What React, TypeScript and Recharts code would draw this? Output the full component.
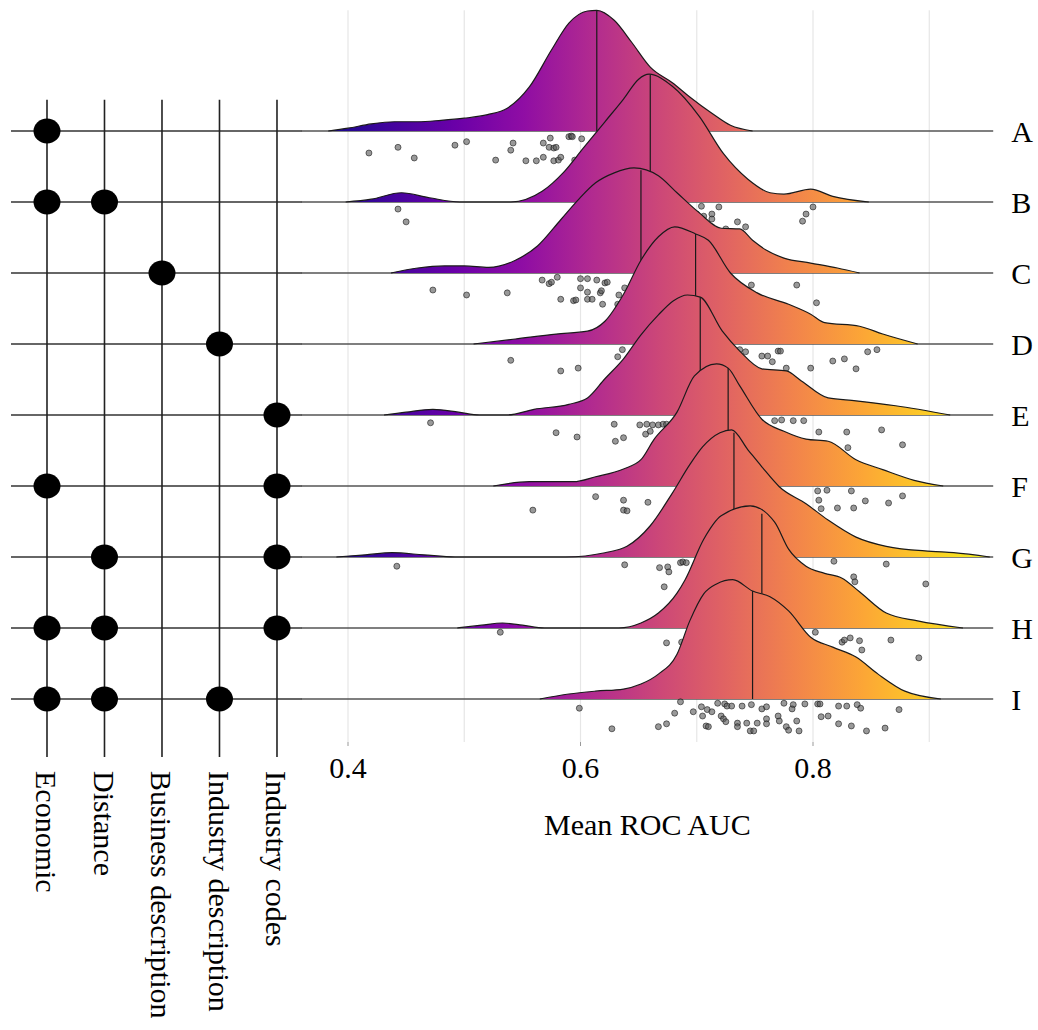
import React from 'react';
import { ComposedChart, Area, Scatter, XAxis, YAxis, ReferenceLine } from 'recharts';

// rows top to bottom
const rowLabels = ['A', 'B', 'C', 'D', 'E', 'F', 'G', 'H', 'I'];
const features = ['Economic', 'Distance', 'Business description', 'Industry description', 'Industry codes'];
// which feature columns are used by each row
const featureSets = [[0], [0, 1], [2], [3], [4], [0, 4], [1, 4], [0, 1, 4], [0, 1, 3]];
const medians = [0.614, 0.66, 0.652, 0.699, 0.703, 0.727, 0.732, 0.756, 0.748];

// density curves: [mean ROC AUC, ridge height in row units]
const densA = [[0.383, 0], [0.40, 0.04], [0.42, 0.10], [0.44, 0.13], [0.46, 0.13], [0.48, 0.15], [0.50, 0.18], [0.52, 0.23], [0.537, 0.32], [0.556, 0.62], [0.575, 1.14], [0.59, 1.52], [0.606, 1.69], [0.614, 1.70], [0.629, 1.56], [0.644, 1.25], [0.66, 0.90], [0.679, 0.68], [0.694, 0.48], [0.713, 0.25], [0.729, 0.08], [0.748, 0]];
const densB = [[0.398, 0], [0.42, 0.04], [0.446, 0.13], [0.47, 0.06], [0.496, 0], [0.54, 0], [0.567, 0.15], [0.585, 0.41], [0.602, 0.75], [0.621, 1.13], [0.637, 1.45], [0.65, 1.73], [0.659, 1.80], [0.679, 1.63], [0.702, 1.21], [0.723, 0.68], [0.744, 0.32], [0.763, 0.13], [0.775, 0.11], [0.798, 0.18], [0.817, 0.08], [0.848, 0]];
const densC = [[0.437, 0], [0.46, 0.07], [0.483, 0.10], [0.50, 0.10], [0.521, 0.08], [0.544, 0.18], [0.563, 0.38], [0.583, 0.75], [0.598, 1.03], [0.613, 1.27], [0.629, 1.41], [0.646, 1.48], [0.667, 1.37], [0.683, 1.13], [0.702, 0.85], [0.721, 0.63], [0.737, 0.62], [0.748, 0.46], [0.76, 0.32], [0.775, 0.21], [0.798, 0.14], [0.821, 0.07], [0.84, 0]];
const densD = [[0.508, 0], [0.544, 0.07], [0.579, 0.14], [0.606, 0.18], [0.621, 0.32], [0.637, 0.70], [0.652, 1.18], [0.667, 1.51], [0.681, 1.65], [0.699, 1.55], [0.71, 1.46], [0.729, 1.00], [0.752, 0.72], [0.779, 0.56], [0.798, 0.42], [0.81, 0.30], [0.84, 0.25], [0.86, 0.14], [0.89, 0]];
const densE = [[0.431, 0], [0.45, 0.04], [0.473, 0.08], [0.495, 0.04], [0.513, 0], [0.537, 0], [0.56, 0.08], [0.59, 0.15], [0.606, 0.24], [0.621, 0.51], [0.637, 0.79], [0.652, 1.13], [0.667, 1.41], [0.68, 1.61], [0.692, 1.69], [0.703, 1.66], [0.722, 1.18], [0.737, 0.90], [0.756, 0.65], [0.777, 0.62], [0.79, 0.48], [0.813, 0.24], [0.837, 0.20], [0.871, 0.13], [0.918, 0]];
const densF = [[0.525, 0], [0.556, 0.06], [0.594, 0.06], [0.613, 0.13], [0.637, 0.24], [0.652, 0.37], [0.663, 0.65], [0.683, 1.04], [0.698, 1.55], [0.717, 1.72], [0.727, 1.66], [0.737, 1.41], [0.756, 0.94], [0.775, 0.77], [0.794, 0.66], [0.813, 0.63], [0.837, 0.37], [0.86, 0.23], [0.887, 0.08], [0.912, 0]];
const densG = [[0.39, 0], [0.415, 0.03], [0.438, 0.06], [0.465, 0.03], [0.492, 0], [0.587, 0], [0.621, 0.06], [0.64, 0.15], [0.66, 0.44], [0.679, 0.90], [0.694, 1.30], [0.705, 1.55], [0.72, 1.75], [0.73, 1.79], [0.744, 1.51], [0.756, 1.27], [0.771, 0.99], [0.794, 0.75], [0.813, 0.52], [0.837, 0.28], [0.863, 0.15], [0.902, 0.08], [0.921, 0.06], [0.952, 0]];
const densH = [[0.494, 0], [0.515, 0.04], [0.533, 0.07], [0.55, 0.04], [0.569, 0], [0.633, 0], [0.652, 0.07], [0.667, 0.21], [0.683, 0.49], [0.69, 0.68], [0.706, 1.25], [0.721, 1.58], [0.746, 1.72], [0.767, 1.49], [0.779, 1.11], [0.794, 0.87], [0.81, 0.77], [0.825, 0.70], [0.84, 0.51], [0.863, 0.21], [0.89, 0.10], [0.929, 0]];
const densI = [[0.565, 0], [0.59, 0.07], [0.613, 0.11], [0.637, 0.14], [0.652, 0.21], [0.667, 0.35], [0.683, 0.63], [0.694, 1.10], [0.706, 1.48], [0.717, 1.62], [0.731, 1.68], [0.748, 1.52], [0.763, 1.44], [0.779, 1.24], [0.798, 0.87], [0.817, 0.73], [0.837, 0.59], [0.856, 0.35], [0.879, 0.11], [0.91, 0]];

// jittered raw points: [mean ROC AUC, depth below the row line in row units]
const ptsA = [[0.418, 0.31], [0.443, 0.23], [0.457, 0.38], [0.492, 0.20], [0.502, 0.15], [0.527, 0.41], [0.540, 0.27], [0.542, 0.17], [0.553, 0.42], [0.562, 0.42], [0.568, 0.37], [0.568, 0.17], [0.574, 0.10], [0.573, 0.23], [0.577, 0.24], [0.579, 0.23], [0.577, 0.42], [0.581, 0.41], [0.583, 0.37], [0.590, 0.08], [0.592, 0.07], [0.593, 0.08], [0.601, 0.11], [0.595, 0.41]];
const ptsB = [[0.443, 0.10], [0.450, 0.28], [0.704, 0.06], [0.719, 0.07], [0.694, 0.10], [0.700, 0.17], [0.706, 0.20], [0.713, 0.17], [0.713, 0.24], [0.735, 0.28], [0.742, 0.35], [0.713, 0.35], [0.725, 0.38], [0.800, 0.07], [0.794, 0.17], [0.791, 0.27]];
const ptsC = [[0.473, 0.24], [0.502, 0.31], [0.537, 0.28], [0.567, 0.10], [0.573, 0.15], [0.575, 0.13], [0.580, 0.06], [0.583, 0.37], [0.594, 0.39], [0.600, 0.08], [0.606, 0.08], [0.614, 0.10], [0.621, 0.14], [0.623, 0.13], [0.600, 0.21], [0.606, 0.27], [0.617, 0.28], [0.618, 0.25], [0.596, 0.38], [0.606, 0.37], [0.610, 0.37], [0.619, 0.44], [0.633, 0.31], [0.632, 0.44], [0.638, 0.21], [0.747, 0.17], [0.786, 0.17], [0.803, 0.42]];
const ptsD = [[0.540, 0.23], [0.583, 0.38], [0.598, 0.34], [0.632, 0.18], [0.636, 0.08], [0.632, 0.41], [0.737, 0.08], [0.742, 0.11], [0.756, 0.17], [0.761, 0.17], [0.765, 0.25], [0.770, 0.10], [0.772, 0.10], [0.777, 0.34], [0.798, 0.34], [0.817, 0.24], [0.827, 0.21], [0.837, 0.35], [0.847, 0.11], [0.855, 0.08]];
const ptsE = [[0.471, 0.11], [0.579, 0.25], [0.597, 0.31], [0.629, 0.13], [0.630, 0.37], [0.637, 0.32], [0.651, 0.14], [0.657, 0.13], [0.662, 0.14], [0.656, 0.27], [0.660, 0.23], [0.667, 0.14], [0.671, 0.13], [0.674, 0.13], [0.767, 0.08], [0.773, 0.07], [0.783, 0.08], [0.792, 0.08], [0.805, 0.24], [0.829, 0.24], [0.859, 0.21], [0.830, 0.46], [0.877, 0.42]];
const ptsF = [[0.559, 0.34], [0.613, 0.15], [0.637, 0.20], [0.658, 0.23], [0.637, 0.34], [0.640, 0.35], [0.804, 0.07], [0.812, 0.06], [0.805, 0.20], [0.833, 0.07], [0.845, 0.21], [0.865, 0.24], [0.877, 0.14], [0.807, 0.32], [0.821, 0.31], [0.835, 0.31]];
const ptsG = [[0.442, 0.13], [0.638, 0.11], [0.668, 0.15], [0.675, 0.14], [0.676, 0.21], [0.686, 0.08], [0.688, 0.07], [0.691, 0.08], [0.672, 0.42], [0.818, 0.06], [0.863, 0.10], [0.835, 0.28], [0.836, 0.35], [0.897, 0.38]];
const ptsH = [[0.531, 0.06], [0.674, 0.21], [0.687, 0.20], [0.691, 0.18], [0.802, 0.06], [0.825, 0.20], [0.827, 0.17], [0.832, 0.14], [0.840, 0.18], [0.842, 0.31], [0.867, 0.17], [0.891, 0.42]];
const ptsI = [[0.599, 0.13], [0.627, 0.42], [0.667, 0.39], [0.674, 0.35], [0.681, 0.20], [0.686, 0.04], [0.697, 0.18], [0.704, 0.11], [0.705, 0.24], [0.709, 0.15], [0.713, 0.18], [0.708, 0.38], [0.710, 0.39], [0.718, 0.06], [0.724, 0.07], [0.726, 0.10], [0.721, 0.24], [0.723, 0.28], [0.725, 0.32], [0.730, 0.10], [0.739, 0.10], [0.747, 0.08], [0.735, 0.34], [0.735, 0.39], [0.743, 0.34], [0.746, 0.45], [0.749, 0.45], [0.752, 0.34], [0.756, 0.14], [0.760, 0.11], [0.760, 0.28], [0.760, 0.35], [0.770, 0.24], [0.771, 0.31], [0.775, 0.06], [0.783, 0.08], [0.782, 0.14], [0.777, 0.39], [0.779, 0.44], [0.786, 0.31], [0.788, 0.45], [0.793, 0.07], [0.804, 0.07], [0.806, 0.07], [0.807, 0.25], [0.813, 0.24], [0.822, 0.10], [0.829, 0.10], [0.822, 0.35], [0.833, 0.38], [0.838, 0.08], [0.841, 0.13], [0.846, 0.45], [0.862, 0.41], [0.874, 0.15]];

const aucTicks = [0.4, 0.6, 0.8];
const gridValues = [0.4, 0.5, 0.6, 0.7, 0.8, 0.9];

const densities = [densA, densB, densC, densD, densE, densF, densG, densH, densI];
const pointSets = [ptsA, ptsB, ptsC, ptsD, ptsE, ptsF, ptsG, ptsH, ptsI];

const PLASMA = ['#0d0887', '#41049d', '#6a00a8', '#8f0da4', '#b12a90', '#cc4778', '#e16462', '#f2844b', '#fca636', '#fcce25', '#f0f921'];

// layout
const W = 1038;
const H = 1030;
const FONT = '"Liberation Serif", "Times New Roman", serif';
const X_DOMAIN: [number, number] = [0.36, 0.955];
const PLOT_L = 301.5;
const PLOT_W = 691.7;
const Y_DOMAIN: [number, number] = [-0.606, 9.845];
const M_Y_DOMAIN: [number, number] = [-0.817, 9.845];
const M_X_DOMAIN: [number, number] = [-0.626, 4.435];
const MATRIX_LINE_TOP = 8.44;
const GRID_TOP = 9.7;

const nRows = rowLabels.length;
const offsetOf = (r: number) => nRows - 1 - r;
const xPx = (v: number) => PLOT_L + ((v - X_DOMAIN[0]) / (X_DOMAIN[1] - X_DOMAIN[0])) * PLOT_W;

const heightAt = (pairs: number[][], m: number) => {
  for (let i = 1; i < pairs.length; i++) {
    const [x0, h0] = pairs[i - 1];
    const [x1, h1] = pairs[i];
    if (m >= x0 && m <= x1) return h0 + ((m - x0) / (x1 - x0)) * (h1 - h0);
  }
  return 0;
};

const PointDot = (p: any) => (
  <circle cx={p.cx} cy={p.cy} r={3} fill="#555" fillOpacity={0.6} stroke="#111" strokeOpacity={0.7} strokeWidth={0.8} />
);

const MatrixDot = (p: any) => <ellipse cx={p.cx} cy={p.cy} rx={13.5} ry={12.5} fill="#000" />;

const FeatureTick = (p: any) => (
  <text
    x={p.x}
    y={p.y}
    transform={`rotate(90 ${p.x} ${p.y})`}
    textAnchor="start"
    dominantBaseline="central"
    fontSize={30}
    fontFamily={FONT}
    fill="#000"
  >
    {features[p.payload.value]}
  </text>
);

const matrixDots = featureSets.flatMap((cols, r) => cols.map((c) => ({ x: c, y: offsetOf(r) })));

const MatrixChart = () => (
  <ComposedChart width={340} height={H} margin={{ top: 0, right: 38, bottom: 0, left: 11 }}>
    <XAxis
      type="number"
      dataKey="x"
      domain={M_X_DOMAIN}
      ticks={[0, 1, 2, 3, 4]}
      interval={0}
      allowDataOverflow
      axisLine={false}
      tickLine={false}
      tickSize={0}
      tickMargin={14}
      height={273}
      tick={<FeatureTick />}
    />
    <YAxis type="number" dataKey="y" domain={M_Y_DOMAIN} allowDataOverflow hide />
    {rowLabels.map((l, r) => (
      <ReferenceLine key={'h' + l} y={offsetOf(r)} stroke="#333" strokeWidth={1.6} />
    ))}
    {features.map((f, c) => (
      <ReferenceLine
        key={'v' + f}
        segment={[{ x: c, y: M_Y_DOMAIN[0] }, { x: c, y: MATRIX_LINE_TOP }]}
        stroke="#222"
        strokeWidth={1.6}
      />
    ))}
    <Scatter data={matrixDots} dataKey="y" shape={MatrixDot} isAnimationActive={false} />
  </ComposedChart>
);

const RidgeChart = () => (
  <ComposedChart width={W} height={H} margin={{ top: 0, right: 0, bottom: 188, left: PLOT_L }}>
    <defs>
      <linearGradient id="plasma" gradientUnits="userSpaceOnUse" x1={xPx(0.375)} y1={0} x2={xPx(0.96)} y2={0}>
        {PLASMA.map((c, i) => (
          <stop key={c} offset={i / (PLASMA.length - 1)} stopColor={c} />
        ))}
      </linearGradient>
    </defs>
    <XAxis
      type="number"
      dataKey="x"
      domain={X_DOMAIN}
      ticks={aucTicks}
      interval={0}
      allowDataOverflow
      axisLine={false}
      tickLine={{ stroke: '#999' }}
      tickSize={4}
      tickMargin={11}
      height={100}
      tick={{ fontSize: 30, fill: '#000', fontFamily: FONT }}
      tickFormatter={(v: number) => v.toFixed(1)}
      label={{ value: 'Mean ROC AUC', position: 'insideTop', offset: 72, fontSize: 30, fill: '#000', fontFamily: FONT }}
    />
    <YAxis
      type="number"
      dataKey="y"
      orientation="right"
      domain={Y_DOMAIN}
      ticks={rowLabels.map((_, r) => offsetOf(r))}
      interval={0}
      allowDataOverflow
      axisLine={false}
      tickLine={false}
      tickSize={0}
      tickMargin={18}
      width={44.8}
      tick={{ fontSize: 30, fill: '#000', fontFamily: FONT, textAnchor: 'start' }}
      tickFormatter={(v: number) => rowLabels[nRows - 1 - v]}
    />
    {gridValues.map((g) => (
      <ReferenceLine
        key={'g' + g}
        segment={[{ x: g, y: Y_DOMAIN[0] }, { x: g, y: GRID_TOP }]}
        stroke="#e6e6e6"
        strokeWidth={1.2}
        zIndex={10}
      />
    ))}
    {densities.flatMap((dens, r) => {
      const off = offsetOf(r);
      const areaData = dens.map(([x, h]) => ({ x, y: off + h }));
      const pts = pointSets[r].map(([x, j]) => ({ x, y: off - j }));
      const m = medians[r];
      return [
        <ReferenceLine key={'row' + r} y={off} stroke="#555" strokeWidth={1.5} zIndex={100 + r * 4} />,
        <Area
          key={'area' + r}
          data={areaData}
          dataKey="y"
          type="monotone"
          baseValue={off}
          fill="url(#plasma)"
          fillOpacity={1}
          stroke="#1a1a1a"
          strokeWidth={1.2}
          dot={false}
          activeDot={false}
          isAnimationActive={false}
          zIndex={101 + r * 4}
        />,
        <ReferenceLine
          key={'med' + r}
          segment={[{ x: m, y: off }, { x: m, y: off + heightAt(dens, m) }]}
          stroke="#1a1a1a"
          strokeWidth={1.2}
          zIndex={102 + r * 4}
        />,
        <Scatter key={'pts' + r} data={pts} dataKey="y" shape={PointDot} isAnimationActive={false} zIndex={103 + r * 4} />,
      ];
    })}
  </ComposedChart>
);

export default function App() {
  return (
    <div style={{ position: 'absolute', left: 0, top: 0, width: W, height: H, background: '#fff', fontFamily: FONT }}>
      <div style={{ position: 'absolute', left: 0, top: 0 }}>
        <MatrixChart />
      </div>
      <div style={{ position: 'absolute', left: 0, top: 0 }}>
        <RidgeChart />
      </div>
    </div>
  );
}
